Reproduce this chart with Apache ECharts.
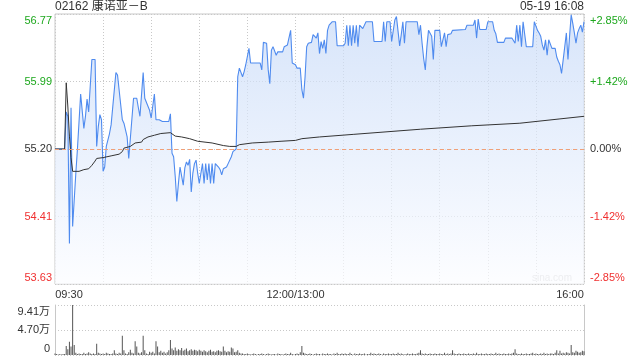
<!DOCTYPE html>
<html><head><meta charset="utf-8">
<style>html,body{margin:0;padding:0;background:#fff}#c{width:640px;height:360px}</style>
<script src="https://cdn.jsdelivr.net/npm/echarts@6/dist/echarts.min.js"></script>
</head><body><div id="c"></div><script>
const title = '02162 康诺亚－B';
const stamp = '05-19 16:08';
const watermark = 'sina.com';
const timeLabels = {0: '09:30', 150: '12:00/13:00', 330: '16:00'};
const priceLabels = ['53.63', '54.41', '55.20', '55.99', '56.77'];
const pctLabels = ['-2.85%', '-1.42%', '0.00%', '+1.42%', '+2.85%'];
const volLabels = ['0', '4.70万', '9.41万'];
const prevClose = 55.20;
const priceMin = 53.63, priceMax = 56.77;
const volMax = 9.41;

// minutes since 09:30 (lunch break removed) and price
const priceT = [0,6,7,8,9,10,11,13,14,15,16,17,18,19,20,21,22,23,25,26,27,28,29,30,31,32,34,35,36,38,39,40,42,43,44,45,46,47,49,51,52,53,55,56,57,59,60,61,62,63,65,66,67,71,72,73,74,75,76,77,78,79,80,81,82,83,84,85,86,87,88,89,90,91,92,93,94,95,96,97,98,99,100,101,102,103,104,105,106,107,108,109,110,111,112,113,114,115,116,117,118,119,120,121,122,125,128,129,130,132,133,134,135,136,137,138,139,142,143,145,146,147,148,150,151,153,154,155,156,157,158,160,161,162,163,164,165,166,167,168,169,170,171,173,175,176,180,181,182,183,184,185,186,187,188,189,190,191,192,193,194,198,199,204,205,206,207,209,210,211,212,213,214,215,216,217,218,219,226,227,228,229,230,231,232,233,234,235,236,237,240,241,242,243,244,245,246,247,248,256,257,261,262,263,264,265,269,270,273,274,275,276,280,281,285,286,287,288,289,290,291,292,293,294,298,299,300,301,302,303,304,305,306,307,308,309,310,312,313,314,315,316,317,318,319,320,321,322,323,324,325,326,327,328,329,330];
const priceV = [55.20,55.20,55.63,55.58,54.10,55.68,54.30,54.92,55.20,55.20,55.84,55.84,55.44,55.58,55.78,55.63,55.65,56.24,56.24,55.23,55.46,55.60,55.54,54.94,54.99,55.23,55.38,55.48,55.49,56.09,56.06,56.04,55.54,55.50,55.48,55.34,55.09,55.09,55.79,55.79,55.68,55.58,56.09,55.79,55.79,55.65,55.56,55.54,55.84,55.54,55.54,55.54,55.52,55.52,55.61,55.15,55.11,54.88,54.59,54.80,54.99,54.99,54.78,54.98,55.05,55.01,55.08,54.70,54.92,55.03,55.07,54.92,54.80,54.80,55.03,54.80,55.03,54.84,55.03,54.80,55.03,54.80,55.03,55.01,54.99,54.96,54.90,54.97,54.96,54.99,55.03,55.05,55.11,55.17,55.19,55.20,56.04,56.14,56.14,56.04,56.10,56.18,56.20,56.37,56.20,56.20,56.20,56.12,56.44,56.43,56.12,55.96,56.35,56.39,56.39,56.29,56.33,56.33,56.39,56.41,56.41,56.58,56.20,56.18,56.14,56.14,55.89,55.79,56.04,56.39,56.43,56.44,56.53,56.55,56.49,56.55,56.31,56.45,56.37,56.47,56.31,56.58,56.64,56.68,56.68,56.40,56.40,56.43,56.64,56.40,56.64,56.40,56.64,56.43,56.64,56.39,56.64,56.64,56.60,56.60,56.68,56.68,56.45,56.45,56.68,56.45,56.68,56.68,56.45,56.45,56.70,56.74,56.76,56.40,56.53,56.68,56.43,56.68,56.68,56.53,56.64,56.43,56.25,56.12,56.39,56.58,56.58,56.51,56.24,56.58,56.58,56.39,56.39,56.55,56.39,56.53,56.55,56.54,56.58,56.59,56.64,56.64,56.70,56.49,56.71,56.59,56.59,56.68,56.68,56.58,56.54,56.44,56.44,56.49,56.49,56.47,56.43,56.64,56.45,56.64,56.39,56.68,56.70,56.39,56.39,56.68,56.70,56.58,56.55,56.51,56.41,56.35,56.47,56.29,56.47,56.47,56.37,56.37,56.27,56.22,56.18,56.08,56.08,56.39,56.55,56.24,56.51,56.76,56.66,56.55,56.43,56.55,56.60,56.64,56.56,56.68];

const avgT = [0,6,7,8,9,10,11,15,18,21,23,25,26,30,35,40,42,43,47,50,54,55,58,62,66,72,75,79,84,89,98,105,109,113,115,123,133,141,150,154,165,186,228,260,290,315,330];
const avgV = [55.20,55.20,55.97,55.70,55.35,55.10,54.94,54.94,54.96,54.97,55.01,55.06,55.09,55.10,55.12,55.14,55.17,55.21,55.23,55.27,55.28,55.31,55.34,55.36,55.38,55.39,55.35,55.34,55.32,55.29,55.27,55.24,55.23,55.23,55.25,55.27,55.28,55.29,55.30,55.32,55.34,55.37,55.43,55.47,55.50,55.55,55.58];

// volume per minute, in 万
const volume = [
0.3,0.2,0.1,0.2,0.1,0.2,0.2,1.7,1.1,2.5,
1.6,9.41,1.9,0.4,0.2,0.3,0.2,0.2,0.4,0.2,
0.3,0.5,0.3,0.2,0.3,0.2,2.1,0.4,0.3,0.2,
0.3,0.2,0.4,0.3,0.2,0.2,0.3,0.9,0.3,0.2,
0.4,0.3,3.6,0.9,0.3,0.2,0.5,1.0,0.4,0.3,
2.6,1.6,0.4,0.3,0.5,3.6,0.9,0.3,0.2,0.6,
0.4,0.6,0.3,2.6,1.6,0.5,0.8,0.4,0.6,0.3,
0.5,0.9,2.8,1.2,0.9,1.4,0.8,1.1,0.9,1.3,
0.8,1.0,1.2,0.7,0.9,1.1,0.8,1.0,0.9,0.7,
1.0,0.8,0.6,0.9,0.7,0.5,0.8,1.0,0.6,0.7,
0.5,0.8,0.9,0.7,0.6,1.6,0.8,0.5,0.7,0.6,
1.4,1.2,0.5,0.6,0.9,0.4,0.3,0.3,0.2,0.2,
0.3,0.2,0.1,0.2,0.3,0.2,0.1,0.2,0.2,0.3,
0.2,0.1,0.2,0.3,0.2,0.1,0.2,0.2,0.1,0.3,
0.2,0.2,0.1,0.2,0.3,0.2,0.2,0.4,0.2,0.1,
0.2,0.3,0.2,0.5,1.7,0.4,0.3,0.2,0.2,0.3,
0.2,0.1,0.2,0.3,0.2,0.2,0.1,0.3,0.2,0.2,
0.3,0.2,0.2,0.1,0.3,0.2,0.4,0.2,0.2,0.3,
0.2,0.3,0.2,0.2,0.4,0.2,0.1,0.3,0.2,0.2,
0.3,0.2,0.2,0.3,0.1,0.2,0.2,0.4,0.2,0.3,
0.2,0.2,0.3,0.2,0.1,0.3,0.2,0.2,0.3,0.2,
0.2,0.3,0.2,0.2,0.4,0.2,0.3,0.2,0.1,0.2,
0.3,0.2,0.2,0.3,0.2,0.2,0.3,0.4,0.9,0.3,
0.2,0.3,0.2,0.2,0.3,0.2,0.2,0.3,0.2,0.2,
0.3,0.2,0.2,0.4,0.2,0.3,0.2,0.3,0.9,0.3,
0.2,0.2,0.3,0.2,0.2,0.3,0.2,0.2,0.3,0.2,
0.2,0.3,0.2,0.4,0.2,0.2,0.3,0.2,0.2,0.3,
0.2,0.2,0.3,0.2,0.2,0.4,0.2,0.3,0.2,0.2,
0.3,0.2,0.2,0.3,0.2,0.3,0.4,1.1,0.3,0.2,
0.2,0.3,0.2,0.2,0.3,0.2,0.2,0.3,0.4,0.2,
0.3,0.2,0.2,0.3,0.2,0.4,0.2,0.3,0.2,0.3,
0.3,0.2,0.4,0.9,0.3,0.8,0.3,0.4,0.3,0.5,
0.4,0.3,1.9,0.5,0.4,0.8,0.6,0.4,0.5,0.8,
0.7];

const FONT = '"Liberation Sans", Arial, "Noto Sans CJK SC", sans-serif';
const GREEN = '#1ea81e', RED = '#f03030', DARK = '#333333';
const GRID = '#c8c8c8';
const labelColors = [RED, RED, DARK, GREEN, GREEN];

function richFor(colors) {
  const r = {};
  colors.forEach((c, i) => {
    r['a' + i] = {color: c, fontSize: 11, fontFamily: FONT,
      padding: i === colors.length - 1 ? [13, 0, 0, 0] : (i === 0 ? [0, 0, 13, 0] : 0)};
  });
  return r;
}

const chart = echarts.init(document.getElementById('c'), null, {renderer: 'canvas'});
const dotted = {color: GRID, type: [1, 2], width: 1};

chart.setOption({
  animation: false,
  textStyle: {fontFamily: FONT},
  grid: [
    {left: 55, top: 14, width: 529, height: 270, show: true, borderColor: GRID, borderWidth: 1, backgroundColor: 'transparent'},
    {left: 55, top: 305, width: 529, height: 50, show: false}
  ],
  xAxis: [
    {gridIndex: 0, type: 'value', min: 0, max: 330, interval: 30,
      axisLine: {show: false}, axisTick: {show: false},
      splitLine: {show: true, lineStyle: dotted},
      axisLabel: {margin: 5, fontSize: 11, color: DARK, fontFamily: FONT,
        formatter: v => {
          const s = timeLabels[Math.round(v)];
          if (!s) return '';
          if (v === 0) return '{l|' + s + '}';
          if (v === 330) return '{r|' + s + '}';
          return '{m|' + s + '}';
        },
        rich: {
          l: {padding: [0, 0, 0, 28], fontSize: 11, color: DARK, fontFamily: FONT},
          r: {padding: [0, 28, 0, 0], fontSize: 11, color: DARK, fontFamily: FONT},
          m: {fontSize: 11, color: DARK, fontFamily: FONT}
        }}},
    {gridIndex: 1, type: 'value', min: 0, max: 330, interval: 30,
      axisLine: {show: false}, axisTick: {show: false}, splitLine: {show: false}, axisLabel: {show: false}}
  ],
  yAxis: [
    {gridIndex: 0, type: 'value', position: 'left', min: priceMin, max: priceMax, interval: 0.785,
      axisLine: {show: false}, axisTick: {show: false},
      splitLine: {show: true, lineStyle: dotted},
      axisLabel: {margin: 3, formatter: (v, i) => '{a' + i + '|' + priceLabels[i] + '}', rich: richFor(labelColors)}},
    {gridIndex: 0, type: 'value', position: 'right', min: priceMin, max: priceMax, interval: 0.785,
      axisLine: {show: false}, axisTick: {show: false}, splitLine: {show: false},
      axisLabel: {margin: 6, formatter: (v, i) => '{a' + i + '|' + pctLabels[i] + '}', rich: richFor(labelColors)}},
    {gridIndex: 1, type: 'value', position: 'left', min: 0, max: volMax, interval: volMax / 2,
      axisLine: {show: true, lineStyle: {color: GRID, width: 1}}, axisTick: {show: false},
      splitLine: {show: true, lineStyle: dotted},
      axisLabel: {margin: 5, formatter: (v, i) => '{a' + i + '|' + volLabels[i] + '}', rich: richFor([DARK, DARK, DARK])}},
    {gridIndex: 1, type: 'value', position: 'right', min: 0, max: volMax, interval: volMax / 2,
      axisLine: {show: true, lineStyle: {color: GRID, width: 1}}, axisTick: {show: false},
      splitLine: {show: false}, axisLabel: {show: false}}
  ],
  series: [
    {type: 'line', xAxisIndex: 0, yAxisIndex: 0, showSymbol: false, symbol: 'none',
      data: priceT.map((t, i) => [t, priceV[i]]),
      lineStyle: {color: '#4f8bef', width: 1.1},
      areaStyle: {origin: 'start', color: {type: 'linear', x: 0, y: 0, x2: 0, y2: 1,
        colorStops: [{offset: 0, color: '#c6d9f7'}, {offset: 1, color: '#fbfcff'}]}},
      markLine: {silent: true, symbol: 'none', label: {show: false},
        lineStyle: {color: '#f0a078', type: [4, 3], width: 1},
        data: [{yAxis: prevClose}]},
      z: 3},
    {type: 'line', xAxisIndex: 0, yAxisIndex: 0, showSymbol: false, symbol: 'none',
      data: avgT.map((t, i) => [t, avgV[i]]),
      lineStyle: {color: '#333', width: 1}, z: 4},
    {type: 'bar', xAxisIndex: 1, yAxisIndex: 2, barWidth: 1,
      data: volume.map((v, i) => [i, v]),
      itemStyle: {color: '#555'}}
  ],
  graphic: [
    {type: 'text', left: 55, top: 1, style: {text: title, font: '12px ' + FONT, fill: '#333'}},
    {type: 'text', right: 56, top: 1, style: {text: stamp, font: '12px ' + FONT, fill: '#333'}},
    {type: 'text', left: 532, top: 273, style: {text: watermark, font: '10px ' + FONT, fill: '#cfcfcf'}}
  ]
});
</script></body></html>
